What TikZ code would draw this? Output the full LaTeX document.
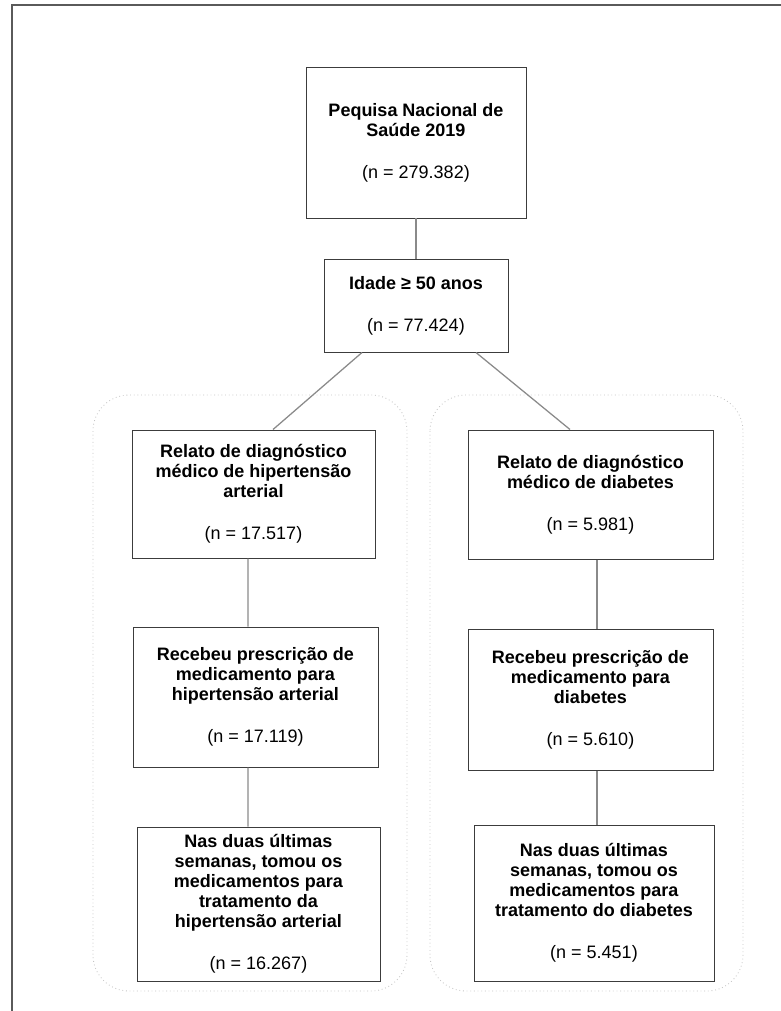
\documentclass[tikz,border=0pt]{standalone}
\usepackage{fontspec}
\setmainfont{Liberation Sans}
\usetikzlibrary{positioning}
\definecolor{flowBorder}{HTML}{3C3C3C}
\definecolor{flowLine}{HTML}{8A8A8A}
\definecolor{flowGroup}{HTML}{C4C4C4}
\definecolor{flowFrame}{HTML}{5A5A5A}
\tikzset{
  flowBox/.style={
    draw=flowBorder,
    line width=0.7pt,
    fill=white,
    align=center,
    font=\fontsize{12.8}{14.2}\selectfont\bfseries,
    inner sep=2pt
  },
  flowLink/.style={draw=flowLine, line width=0.9pt},
  flowGroupBox/.style={draw=flowGroup, dotted, line width=0.6pt, rounded corners=0.9cm},
  frameLine/.style={draw=flowFrame, line width=1.3pt}
}

\begin{document}
\begin{tikzpicture}[x=1cm,y=1cm]
  \useasboundingbox (0,0) rectangle (19.525,-25.275);
  \draw[frameLine] (19.525,-0.125) -- (0.3,-0.125) -- (0.3,-25.275);

  % groups
  \draw[flowGroupBox] (2.325,-9.875) rectangle (10.175,-24.775);
  \draw[flowGroupBox] (10.75,-9.875) rectangle (18.575,-24.775);

  \node[flowBox, minimum width=5.5cm, minimum height=3.775cm]
    (pns) at (10.4,-3.5625)
    {Pequisa Nacional de\\ Saúde 2019\\[0.55cm] \mdseries (n = 279.382)};
  \node[flowBox, minimum width=4.6cm, minimum height=2.325cm]
    (idade) at (10.4,-7.6375)
    {Idade ≥ 50 anos\\[0.55cm] \mdseries (n = 77.424)};

  \node[flowBox, minimum width=6.075cm, minimum height=3.2cm]
    (hasDiag) at (6.3375,-12.35)
    {Relato de diagnóstico\\ médico de hipertensão\\ arterial\\[0.55cm] \mdseries (n = 17.517)};
  \node[flowBox, minimum width=6.125cm, minimum height=3.5cm]
    (hasPresc) at (6.3875,-17.425)
    {Recebeu prescrição de\\ medicamento para\\ hipertensão arterial\\[0.55cm] \mdseries (n = 17.119)};
  \node[flowBox, minimum width=6.075cm, minimum height=3.85cm]
    (hasUso) at (6.4625,-22.6)
    {Nas duas últimas\\ semanas, tomou os\\ medicamentos para\\ tratamento da\\ hipertensão arterial\\[0.55cm] \mdseries (n = 16.267)};

  \node[flowBox, minimum width=6.125cm, minimum height=3.225cm]
    (dmDiag) at (14.7625,-12.3625)
    {Relato de diagnóstico\\ médico de diabetes\\[0.55cm] \mdseries (n = 5.981)};
  \node[flowBox, minimum width=6.125cm, minimum height=3.525cm]
    (dmPresc) at (14.7625,-17.4875)
    {Recebeu prescrição de\\ medicamento para\\ diabetes\\[0.55cm] \mdseries (n = 5.610)};
  \node[flowBox, minimum width=6.0cm, minimum height=3.9cm]
    (dmUso) at (14.85,-22.575)
    {Nas duas últimas\\ semanas, tomou os\\ medicamentos para\\ tratamento do diabetes\\[0.55cm] \mdseries (n = 5.451)};

  \draw[flowLink] (pns) -- (idade);
  \draw[flowLink] ([xshift=-1.35cm]idade.south) -- ([xshift=0.4875cm]hasDiag.north);
  \draw[flowLink] ([xshift=1.5cm]idade.south) -- ([xshift=-0.5125cm]dmDiag.north);

  \draw[flowLink] ([xshift=-0.14cm]hasDiag.south) -- ([xshift=-0.19cm]hasPresc.north);
  \draw[flowLink] ([xshift=-0.19cm]hasPresc.south) -- ([xshift=-0.26cm]hasUso.north);
  \draw[flowLink] ([xshift=0.1625cm]dmDiag.south) -- ([xshift=0.1625cm]dmPresc.north);
  \draw[flowLink] ([xshift=0.1625cm]dmPresc.south) -- ([xshift=0.075cm]dmUso.north);
\end{tikzpicture}
\end{document}
